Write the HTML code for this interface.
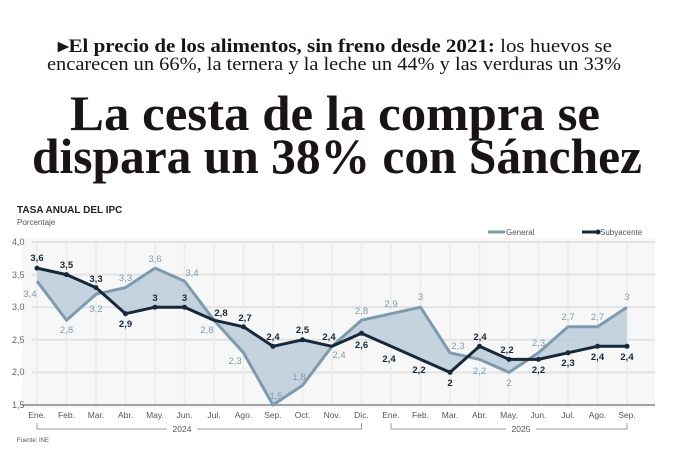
<!DOCTYPE html><html><head><meta charset="utf-8"><style>body{margin:0;background:#fff}svg{display:block}</style></head><body>
<svg width="680" height="476" viewBox="0 0 680 476" xmlns="http://www.w3.org/2000/svg">
<rect width="680" height="476" fill="#fff"/>
<g font-family="Liberation Serif, serif" fill="#1a1414">
<text x="58" y="52" font-size="19" textLength="554" lengthAdjust="spacingAndGlyphs"><tspan font-weight="bold">▸El precio de los alimentos, sin freno desde 2021:</tspan> los huevos se</text>
<text x="47" y="70" font-size="19" textLength="574" lengthAdjust="spacingAndGlyphs">encarecen un 66%, la ternera y la leche un 44% y las verduras un 33%</text>
<text x="70" y="130" font-size="50" font-weight="bold" textLength="530" lengthAdjust="spacingAndGlyphs">La cesta de la compra se</text>
<text x="32" y="173" font-size="50" font-weight="bold" textLength="610" lengthAdjust="spacingAndGlyphs">dispara un 38% con Sánchez</text>
</g>
<g font-family="Liberation Sans, sans-serif">
<text x="17" y="213" font-size="10" font-weight="bold" fill="#222">TASA ANUAL DEL IPC</text>
<text x="17" y="225" font-size="8" fill="#555">Porcentaje</text>
<rect x="22" y="238" width="633" height="170" fill="#f7f7f7"/>
<g stroke="#e2e2e2" stroke-width="2">
<line x1="32" y1="242" x2="655" y2="242"/><line x1="32" y1="274.6" x2="655" y2="274.6"/><line x1="32" y1="307.2" x2="655" y2="307.2"/><line x1="32" y1="339.8" x2="655" y2="339.8"/><line x1="32" y1="372.4" x2="655" y2="372.4"/>
</g>
<g stroke="#ececec" stroke-width="1.5">
<line x1="37" y1="242" x2="37" y2="405"/><line x1="66.5" y1="242" x2="66.5" y2="405"/><line x1="96" y1="242" x2="96" y2="405"/><line x1="125.5" y1="242" x2="125.5" y2="405"/><line x1="155" y1="242" x2="155" y2="405"/><line x1="184.5" y1="242" x2="184.5" y2="405"/><line x1="214" y1="242" x2="214" y2="405"/><line x1="243.5" y1="242" x2="243.5" y2="405"/><line x1="273" y1="242" x2="273" y2="405"/><line x1="302.5" y1="242" x2="302.5" y2="405"/><line x1="332" y1="242" x2="332" y2="405"/><line x1="361.5" y1="242" x2="361.5" y2="405"/><line x1="391" y1="242" x2="391" y2="405"/><line x1="420.5" y1="242" x2="420.5" y2="405"/><line x1="450" y1="242" x2="450" y2="405"/><line x1="479.5" y1="242" x2="479.5" y2="405"/><line x1="509" y1="242" x2="509" y2="405"/><line x1="538.5" y1="242" x2="538.5" y2="405"/><line x1="568" y1="242" x2="568" y2="405"/><line x1="597.5" y1="242" x2="597.5" y2="405"/><line x1="627" y1="242" x2="627" y2="405"/>
</g>
<line x1="22" y1="405" x2="655" y2="405" stroke="#888" stroke-width="1.5"/>
<g font-size="9" fill="#666">
<text x="12" y="245">4,0</text><text x="12" y="278">3,5</text><text x="12" y="310">3,0</text><text x="12" y="343">2,5</text><text x="12" y="375">2,0</text><text x="12" y="408">1,5</text>
</g>
<polygon fill="#bccddb" opacity="0.85" points="37,281.1 66.5,320.2 96,294.2 125.5,287.6 155,268.1 184.5,281.1 214,320.2 243.5,352.8 273,405 302.5,385.4 332,346.3 361.5,320.2 391,313.7 420.5,307.2 450,352.8 479.5,359.4 509,372.4 538.5,352.8 568,326.8 597.5,326.8 627,307.2 627,346.3 597.5,346.3 568,352.8 538.5,359.4 509,359.4 479.5,346.3 450,372.4 420.5,359.4 391,346.3 361.5,333.3 332,346.3 302.5,339.8 273,346.3 243.5,326.8 214,320.2 184.5,307.2 155,307.2 125.5,313.7 96,287.6 66.5,274.6 37,268.1"/>
<polyline fill="none" stroke="#7d9bae" stroke-width="3" stroke-linejoin="round" points="37,281.1 66.5,320.2 96,294.2 125.5,287.6 155,268.1 184.5,281.1 214,320.2 243.5,352.8 273,405 302.5,385.4 332,346.3 361.5,320.2 391,313.7 420.5,307.2 450,352.8 479.5,359.4 509,372.4 538.5,352.8 568,326.8 597.5,326.8 627,307.2"/>
<polyline fill="none" stroke="#15293a" stroke-width="3" stroke-linejoin="round" points="37,268.1 66.5,274.6 96,287.6 125.5,313.7 155,307.2 184.5,307.2 214,320.2 243.5,326.8 273,346.3 302.5,339.8 332,346.3 361.5,333.3 391,346.3 420.5,359.4 450,372.4 479.5,346.3 509,359.4 538.5,359.4 568,352.8 597.5,346.3 627,346.3"/>
<g font-size="9.5" fill="#7d9bae" text-anchor="middle">
<text x="30" y="297">3,4</text><text x="66.5" y="333">2,8</text><text x="96" y="312">3,2</text><text x="125.5" y="281">3,3</text><text x="155" y="262">3,6</text><text x="192" y="276">3,4</text><text x="207" y="333">2,8</text><text x="235" y="364">2,3</text><text x="276" y="399">1,5</text><text x="299" y="380">1,8</text><text x="339" y="358">2,4</text><text x="361.5" y="314">2,8</text><text x="391" y="307">2,9</text><text x="420.5" y="300">3</text><text x="458" y="349">2,3</text><text x="479.5" y="374">2,2</text><text x="509" y="386">2</text><text x="538.5" y="346">2,3</text><text x="568" y="320">2,7</text><text x="597.5" y="320">2,7</text><text x="627" y="300">3</text>
</g>
<g font-size="9.5" font-weight="bold" fill="#15293a" text-anchor="middle">
<text x="37" y="261">3,6</text><text x="66.5" y="268">3,5</text><text x="96" y="282">3,3</text><text x="125.5" y="327">2,9</text><text x="155" y="301">3</text><text x="184.5" y="301">3</text><text x="221" y="316">2,8</text><text x="245" y="321">2,7</text><text x="273" y="340">2,4</text><text x="302.5" y="333">2,5</text><text x="329" y="340">2,4</text><text x="361.5" y="348">2,6</text><text x="389" y="362">2,4</text><text x="419" y="373">2,2</text><text x="450" y="386">2</text><text x="480" y="340">2,4</text><text x="507" y="353">2,2</text><text x="538.5" y="373">2,2</text><text x="568" y="366">2,3</text><text x="597.5" y="360">2,4</text><text x="627" y="360">2,4</text>
</g>
<g fill="#15293a">
<circle cx="37" cy="268.1" r="2.5"/><circle cx="66.5" cy="274.6" r="2.5"/><circle cx="96" cy="287.6" r="2.5"/><circle cx="125.5" cy="313.7" r="2.5"/><circle cx="155" cy="307.2" r="2.5"/><circle cx="184.5" cy="307.2" r="2.5"/><circle cx="243.5" cy="326.8" r="2.5"/><circle cx="273" cy="346.3" r="2.5"/><circle cx="302.5" cy="339.8" r="2.5"/><circle cx="361.5" cy="333.3" r="2.5"/><circle cx="450" cy="372.4" r="2.5"/><circle cx="479.5" cy="346.3" r="2.5"/><circle cx="509" cy="359.4" r="2.5"/><circle cx="538.5" cy="359.4" r="2.5"/><circle cx="568" cy="352.8" r="2.5"/><circle cx="597.5" cy="346.3" r="2.5"/><circle cx="627" cy="346.3" r="2.5"/>
</g>
<g font-size="8.5" fill="#555" text-anchor="middle">
<text x="37" y="418">Ene.</text><text x="66.5" y="418">Feb.</text><text x="96" y="418">Mar.</text><text x="125.5" y="418">Abr.</text><text x="155" y="418">May.</text><text x="184.5" y="418">Jun.</text><text x="214" y="418">Jul.</text><text x="243.5" y="418">Ago.</text><text x="273" y="418">Sep.</text><text x="302.5" y="418">Oct.</text><text x="332" y="418">Nov.</text><text x="361.5" y="418">Dic.</text><text x="391" y="418">Ene.</text><text x="420.5" y="418">Feb.</text><text x="450" y="418">Mar.</text><text x="479.5" y="418">Abr.</text><text x="509" y="418">May.</text><text x="538.5" y="418">Jun.</text><text x="568" y="418">Jul.</text><text x="597.5" y="418">Ago.</text><text x="627" y="418">Sep.</text>
<text x="182" y="432">2024</text><text x="521" y="432">2025</text>
</g>
<g stroke="#999" fill="none" stroke-width="1">
<path d="M37,423 V429 H167 M197,429 H361.5 V423"/>
<path d="M391,423 V429 H506 M536,429 H627 V423"/>
</g>
<text x="17" y="442" font-size="6" fill="#555">Fuente: INE</text>
<line x1="488" y1="232" x2="505" y2="232" stroke="#7d9bae" stroke-width="3"/>
<text x="506" y="235" font-size="8" fill="#555">General</text>
<line x1="582" y1="232" x2="598" y2="232" stroke="#15293a" stroke-width="3"/><circle cx="598" cy="232" r="2.5" fill="#15293a"/>
<text x="600" y="235" font-size="8" fill="#555">Subyacente</text>
</g>
</svg>
</body></html>
